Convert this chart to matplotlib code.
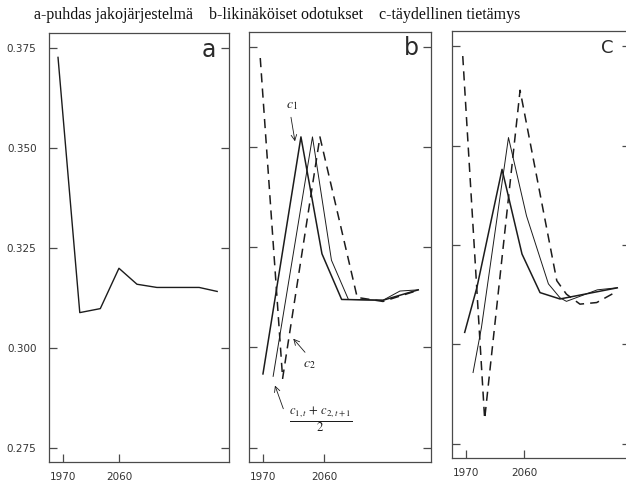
import matplotlib
matplotlib.use("Agg")
import matplotlib.pyplot as plt

plt.rcParams["mathtext.fontset"] = "stix"

# Panel titles and tick labels
titles = ["a-puhdas jakojärjestelmä", "b-likinäköiset odotukset", "c-täydellinen tietämys"]
panel_letters = ["a", "b", "C"]
x_ticks = [1970, 2060]
x_tick_labels = ["1970", "2060"]
y_ticks = [0.275, 0.300, 0.325, 0.350, 0.375]
y_tick_labels = ["0.275", "0.300", "0.325", "0.350", "0.375"]

# a: pure pay-as-you-go system
a_years = [1962, 1997, 2030, 2060, 2089, 2121, 2189, 2218]
a_vals = [0.3727, 0.3088, 0.3098, 0.3199, 0.3159, 0.3151, 0.3151, 0.3141]

# b: myopic expectations
b_c1_years = [1970, 2026, 2057, 2086, 2147, 2199]
b_c1_vals = [0.2934, 0.3526, 0.3234, 0.3120, 0.3118, 0.3144]
b_avg_years = [1985, 2043, 2071, 2096, 2147, 2172, 2199]
b_avg_vals = [0.2928, 0.3526, 0.3218, 0.3120, 0.3118, 0.3141, 0.3144]
b_c2_years = [1966, 1999, 2054, 2109, 2147, 2199]
b_c2_vals = [0.3723, 0.2923, 0.3526, 0.3125, 0.3115, 0.3143]

# c: perfect foresight
c_c1_years = [1968, 1987, 2026, 2057, 2085, 2116, 2205]
c_c1_vals = [0.3030, 0.3143, 0.3440, 0.3227, 0.3130, 0.3114, 0.3142]
c_avg_years = [1981, 1994, 2036, 2064, 2098, 2116, 2126, 2174, 2204]
c_avg_vals = [0.2929, 0.3042, 0.3520, 0.3323, 0.3152, 0.3117, 0.3108, 0.3137, 0.3142]
c_c2_years = [1965, 1999, 2054, 2111, 2126, 2147, 2173, 2201]
c_c2_vals = [0.3725, 0.2812, 0.3639, 0.3160, 0.3126, 0.3101, 0.3105, 0.3130]

W, H = 626, 486
fig = plt.figure(figsize=(W / 100, H / 100), dpi=100)
fig.patch.set_facecolor("white")

def px_axes(left, right, top, bottom):
    return fig.add_axes([left / W, 1 - bottom / H, (right - left) / W, (bottom - top) / H])

axes = [
    px_axes(49, 229, 33, 462),
    px_axes(249, 431, 32, 462),
    px_axes(452, 630, 31, 458),
]
xlims = [(1947.5, 2237), (1949.4, 2217.8), (1948.3, 2224.7)]
ylim = (0.2714, 0.3788)

line_col = "#1c1c1c"
spine_col = "#4a4a4a"

for i, ax in enumerate(axes):
    ax.set_xlim(*xlims[i])
    ax.set_ylim(*ylim)
    for s in ax.spines.values():
        s.set_color(spine_col)
        s.set_linewidth(0.9)
    ax.set_xticks(x_ticks)
    ax.set_xticklabels(x_tick_labels, fontsize=7.5, color="#333333")
    ax.set_yticks(y_ticks)
    ax.tick_params(axis="both", direction="in", length=6, width=0.9,
                   color=spine_col, right=True)
    ax.tick_params(axis="x", pad=7)
    ax.tick_params(axis="y", pad=9)
    if i == 0:
        ax.set_yticklabels(y_tick_labels, fontsize=7.5, color="#333333")
    else:
        ax.set_yticklabels([])
    ax.set_facecolor("white")

# panel titles
title_x = [114, 286, 450]
for tx, t in zip(title_x, titles):
    fig.text(tx / W, 1 - 15 / H, t, ha="center", va="center",
             fontsize=11.5, family="Liberation Serif", color="#111111")

# panel letters
letter_pos = [(209, 50), (411, 48), (607, 48)]
letter_size = [17, 17, 13]
for (lx, ly), l, fs in zip(letter_pos, panel_letters, letter_size):
    fig.text(lx / W, 1 - ly / H, l, ha="center", va="center",
             fontsize=fs, color="#2a2a2a", family="DejaVu Sans")

dash = (6, 4)

# a
axes[0].plot(a_years, a_vals, color=line_col, lw=1.0)

# b
ax = axes[1]
ax.plot(b_c1_years, b_c1_vals, color=line_col, lw=1.1)
ax.plot(b_avg_years, b_avg_vals, color=line_col, lw=0.7)
ax.plot(b_c2_years, b_c2_vals, color=line_col, lw=1.1, dashes=dash)

arrow = dict(arrowstyle="->", lw=0.6, color=line_col, shrinkA=0, shrinkB=0)
ax.annotate("", xy=(2017.2, 0.3515), xytext=(2011.3, 0.3575), arrowprops=arrow)
ax.text(2012.3, 0.3605, r"$c_1$", fontsize=10, ha="center", va="center", color=line_col)
ax.annotate("", xy=(2014.7, 0.3022), xytext=(2032, 0.2988), arrowprops=arrow)
ax.text(2039, 0.2960, r"$c_2$", fontsize=10, ha="center", va="center", color=line_col)
ax.annotate("", xy=(1987.7, 0.2905), xytext=(2000, 0.2847), arrowprops=arrow)
ax.text(2055.5, 0.2818, r"$\frac{c_{1,t}\,+\,c_{2,t+1}}{2}$", fontsize=13,
        ha="center", va="center", color=line_col)

# c
ax = axes[2]
ax.plot(c_c1_years, c_c1_vals, color=line_col, lw=1.1)
ax.plot(c_avg_years, c_avg_vals, color=line_col, lw=0.7)
ax.plot(c_c2_years, c_c2_vals, color=line_col, lw=1.1, dashes=dash)

fig.savefig("out.png", dpi=100, facecolor="white")
